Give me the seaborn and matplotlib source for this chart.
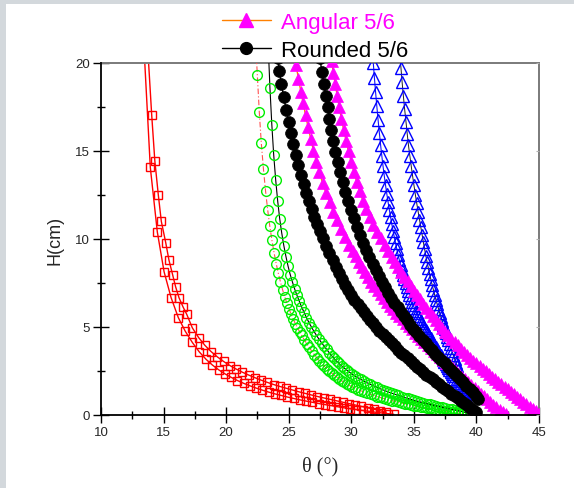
import matplotlib
matplotlib.use("Agg")
import matplotlib.pyplot as plt
from matplotlib.patches import Rectangle
from matplotlib.lines import Line2D
from matplotlib.ticker import MultipleLocator
import seaborn as sns

# ---------------- data ----------------
red_a_theta = [13.77, 14.05, 14.30, 14.58, 14.82, 15.17, 15.43, 15.73, 15.96, 16.23, 16.55, 16.85,
               17.3, 17.8, 18.3, 18.8, 19.3, 19.8, 20.3, 20.8, 21.3, 21.8, 22.3, 22.8, 23.3, 23.8,
               24.3, 24.8, 25.3, 25.8, 26.3, 26.8, 27.3, 27.8, 28.3, 28.8, 29.3, 29.8, 30.3, 30.8,
               31.3, 31.8, 32.3, 32.8]
red_a_h = [20.4, 17.06, 14.45, 12.50, 11.00, 9.80, 8.80, 7.95, 7.29, 6.67, 6.15, 5.72,
           4.95, 4.40, 3.96, 3.60, 3.30, 3.04, 2.81, 2.61, 2.43, 2.27, 2.12, 1.98, 1.85, 1.73,
           1.62, 1.52, 1.42, 1.32, 1.23, 1.14, 1.05, 0.97, 0.89, 0.81, 0.73, 0.65, 0.57, 0.49,
           0.41, 0.33, 0.24, 0.16]

red_c_theta = [13.38, 13.94, 14.50, 15.04, 15.60, 16.18, 16.74, 17.30, 17.86, 18.4, 18.9, 19.4,
               19.9, 20.4, 20.9, 21.4, 21.9, 22.4, 22.9, 23.4, 23.9, 24.4, 24.9, 25.4, 25.9, 26.4,
               26.9, 27.4, 27.9, 28.4, 28.9, 29.4, 29.9, 30.4, 30.9, 31.4, 31.9, 32.4, 32.9, 33.4]
red_c_h = [21.6, 14.07, 10.40, 8.14, 6.67, 5.53, 4.75, 4.12, 3.58, 3.16, 2.84, 2.57,
           2.34, 2.14, 1.96, 1.80, 1.66, 1.53, 1.41, 1.30, 1.20, 1.11, 1.02, 0.94, 0.86, 0.79,
           0.72, 0.65, 0.59, 0.53, 0.47, 0.41, 0.36, 0.31, 0.26, 0.21, 0.16, 0.12, 0.08, 0.04]

green_l_theta = [22.32, 22.49, 22.65, 22.81, 22.98, 23.15, 23.32, 23.49, 23.66, 23.83, 24.00, 24.17,
                 24.34, 24.51, 24.68, 24.85, 25.02, 25.19, 25.36, 25.53, 25.70, 25.87, 26.04,
                 26.24, 26.44, 26.64, 26.84, 27.04, 27.24, 27.44, 27.64, 27.84, 28.04, 28.24, 28.44,
                 28.64, 28.84, 29.04, 29.24, 29.44, 29.64, 29.84, 30.04, 30.29, 30.54, 30.79, 31.04,
                 31.29, 31.54, 31.79, 32.04, 32.29, 32.54, 32.79, 33.04, 33.29, 33.54, 33.79, 34.04,
                 34.29, 34.54, 34.79, 35.04, 35.29, 35.54, 35.79, 36.04, 36.29, 36.54, 36.79, 37.04,
                 37.29, 37.54, 37.79, 38.04, 38.29, 38.54, 38.79]
green_l_h = [21.7, 19.34, 17.20, 15.44, 13.98, 12.72, 11.65, 10.72, 9.92, 9.22, 8.60, 8.05,
             7.56, 7.12, 6.72, 6.36, 6.03, 5.73, 5.45, 5.19, 4.95, 4.73, 4.52,
             4.28, 4.05, 3.84, 3.63, 3.43, 3.25, 3.08, 2.92, 2.77, 2.63, 2.50, 2.38,
             2.26, 2.15, 2.04, 1.94, 1.85, 1.76, 1.68, 1.61, 1.52, 1.44, 1.37, 1.30,
             1.23, 1.17, 1.11, 1.05, 1.00, 0.95, 0.90, 0.85, 0.81, 0.77, 0.72, 0.68,
             0.64, 0.60, 0.56, 0.53, 0.49, 0.46, 0.43, 0.40, 0.37, 0.34, 0.31, 0.28,
             0.25, 0.22, 0.19, 0.17, 0.14, 0.11, 0.08]

green_r_theta = [23.36, 23.50, 23.65, 23.80, 23.96, 24.12, 24.28, 24.44, 24.61, 24.78, 24.95, 25.12,
                 25.30, 25.48, 25.66, 25.84, 26.02, 26.22, 26.42, 26.62, 26.82, 27.02, 27.22, 27.42,
                 27.62, 27.82, 28.02, 28.22, 28.42, 28.62, 28.82, 29.02, 29.22, 29.42, 29.62, 29.82,
                 30.02, 30.27, 30.52, 30.77, 31.02, 31.27, 31.52, 31.77, 32.02, 32.27, 32.52, 32.77,
                 33.02, 33.27, 33.52, 33.77, 34.02, 34.27, 34.52, 34.77, 35.02, 35.27, 35.52, 35.77,
                 36.02, 36.27, 36.52, 36.77, 37.02, 37.27, 37.52, 37.77, 38.02, 38.27, 38.52, 38.77,
                 39.02, 39.27]
green_r_h = [21.0, 18.58, 16.50, 14.78, 13.35, 12.15, 11.15, 10.35, 9.62, 9.00, 8.45, 7.98,
             7.55, 7.15, 6.80, 6.47, 6.16, 5.84, 5.53, 5.25, 4.99, 4.75, 4.52, 4.31,
             4.11, 3.92, 3.74, 3.55, 3.38, 3.22, 3.07, 2.93, 2.80, 2.68, 2.56, 2.45,
             2.35, 2.23, 2.12, 2.02, 1.92, 1.83, 1.74, 1.66, 1.58, 1.50, 1.43, 1.36,
             1.29, 1.23, 1.17, 1.11, 1.05, 0.99, 0.94, 0.89, 0.84, 0.79, 0.74, 0.69,
             0.65, 0.60, 0.56, 0.52, 0.48, 0.44, 0.40, 0.36, 0.32, 0.28, 0.24, 0.20,
             0.16, 0.12]

blue_l_theta = [31.66, 31.76, 31.85, 31.94, 32.04, 32.14, 32.24, 32.34, 32.44, 32.54, 32.64, 32.74,
                32.84, 32.94, 33.04, 33.14, 33.24, 33.34, 33.44, 33.54, 33.64, 33.74, 33.84, 33.94,
                34.04, 34.14, 34.24, 34.34, 34.44, 34.54, 34.64, 34.74, 34.84, 34.94, 35.04, 35.14,
                35.24, 35.34, 35.44, 35.54, 35.64, 35.74, 35.84, 35.94, 36.04, 36.14, 36.24, 36.34,
                36.44, 36.54, 36.64, 36.74, 36.84, 36.94, 37.04, 37.14, 37.24, 37.34, 37.44, 37.54,
                37.64, 37.74, 37.84, 37.94, 38.04, 38.14, 38.24, 38.34, 38.44, 38.54, 38.64, 38.74,
                38.84, 38.94, 39.04, 39.14, 39.24]
blue_l_h = [20.85, 19.98, 19.15, 18.35, 17.55, 16.78, 16.05, 15.36, 14.72, 14.12, 13.56, 13.04,
            12.56, 12.10, 11.66, 11.24, 10.84, 10.46, 10.10, 9.75, 9.42, 9.10, 8.80, 8.51,
            8.23, 7.97, 7.72, 7.48, 7.25, 7.03, 6.82, 6.62, 6.43, 6.25, 6.08, 5.92,
            5.77, 5.62, 5.48, 5.34, 5.21, 5.08, 4.95, 4.83, 4.71, 4.59, 4.47, 4.35,
            4.23, 4.11, 3.99, 3.87, 3.75, 3.63, 3.51, 3.39, 3.27, 3.15, 3.03, 2.91,
            2.79, 2.67, 2.55, 2.43, 2.31, 2.19, 2.07, 1.95, 1.83, 1.71, 1.59, 1.47,
            1.35, 1.23, 1.12, 1.01, 0.90]

blue_r_theta = [33.87, 33.97, 34.06, 34.16, 34.26, 34.37, 34.47, 34.57, 34.68, 34.79, 34.90, 35.01,
                35.12, 35.23, 35.34, 35.45, 35.56, 35.66, 35.76, 35.86, 35.96, 36.06, 36.16, 36.26,
                36.36, 36.46, 36.56, 36.66, 36.76, 36.86, 36.96, 37.06, 37.16, 37.26, 37.36, 37.46,
                37.56, 37.66, 37.76, 37.86, 37.96, 38.06, 38.16, 38.26, 38.36, 38.46, 38.56, 38.66,
                38.76, 38.86]
blue_r_h = [20.5, 19.72, 18.92, 18.14, 17.40, 16.67, 15.97, 15.32, 14.72, 14.14, 13.58, 13.04,
            12.52, 12.03, 11.56, 11.10, 10.66, 10.24, 9.82, 9.42, 9.04, 8.68, 8.34, 8.01,
            7.70, 7.40, 7.11, 6.83, 6.56, 6.30, 6.05, 5.81, 5.57, 5.34, 5.11, 4.89,
            4.67, 4.45, 4.24, 4.03, 3.82, 3.61, 3.40, 3.19, 2.98, 2.77, 2.56, 2.35,
            2.14, 1.93]

mag_l_theta = [25.40, 25.58, 25.78, 25.97, 26.16, 26.35, 26.55, 26.76, 26.98, 27.21, 27.45, 27.71,
               27.98, 28.26, 28.55, 28.85, 29.16, 29.48, 29.80, 30.10, 30.35, 30.60, 30.85, 31.10,
               31.35, 31.60, 31.85, 32.10, 32.35, 32.60, 32.85, 33.10, 33.35, 33.60, 33.85, 34.10,
               34.35, 34.60, 34.85, 35.10, 35.35, 35.60, 35.85, 36.10, 36.35, 36.60, 36.85, 37.10,
               37.35, 37.60, 37.85, 38.10, 38.35, 38.60, 38.85, 39.10, 39.35, 39.60, 39.85, 40.10,
               40.35, 40.60, 40.85, 41.10, 41.35, 41.60, 41.85, 42.10, 42.35]
mag_l_h = [20.60, 19.90, 19.10, 18.38, 17.70, 17.02, 16.36, 15.68, 15.02, 14.38, 13.78, 13.18,
           12.62, 12.08, 11.56, 11.06, 10.58, 10.12, 9.68, 9.30, 9.02, 8.70, 8.40, 8.11,
           7.84, 7.58, 7.33, 7.09, 6.86, 6.64, 6.43, 6.22, 6.02, 5.82, 5.62, 5.43,
           5.24, 5.05, 4.86, 4.68, 4.50, 4.32, 4.14, 3.97, 3.80, 3.63, 3.46, 3.30,
           3.14, 2.98, 2.82, 2.66, 2.50, 2.34, 2.18, 2.02, 1.86, 1.70, 1.54, 1.38,
           1.22, 1.06, 0.90, 0.74, 0.58, 0.43, 0.29, 0.17, 0.07]

mag_r_theta = [28.42, 28.57, 28.72, 28.88, 29.04, 29.21, 29.39, 29.58, 29.78, 29.99, 30.21, 30.44,
               30.68, 30.93, 31.20, 31.48, 31.77, 32.06, 32.36, 32.66, 32.96, 33.25, 33.50, 33.75,
               34.00, 34.25, 34.50, 34.75, 35.00, 35.25, 35.50, 35.75, 36.00, 36.25, 36.50, 36.75,
               37.00, 37.25, 37.50, 37.75, 38.00, 38.25, 38.50, 38.75, 39.00, 39.25, 39.50, 39.75,
               40.00, 40.25, 40.50, 40.75, 41.00, 41.25, 41.50, 41.75, 42.00, 42.25, 42.50, 42.75,
               43.00, 43.25, 43.50, 43.75, 44.00, 44.25, 44.50, 44.75, 45.00]
mag_r_h = [20.10, 19.43, 18.78, 18.13, 17.48, 16.84, 16.21, 15.59, 14.98, 14.38, 13.80, 13.24,
           12.70, 12.18, 11.68, 11.24, 10.82, 10.42, 10.03, 9.66, 9.30, 8.96, 8.68, 8.40,
           8.13, 7.86, 7.59, 7.33, 7.07, 6.82, 6.57, 6.33, 6.09, 5.85, 5.62, 5.39,
           5.17, 4.95, 4.74, 4.53, 4.33, 4.14, 3.95, 3.77, 3.59, 3.42, 3.25, 3.09,
           2.93, 2.78, 2.63, 2.48, 2.33, 2.18, 2.03, 1.88, 1.74, 1.60, 1.46, 1.32,
           1.18, 1.04, 0.90, 0.76, 0.62, 0.48, 0.34, 0.20, 0.06]

blk_l_theta = [24.12, 24.25, 24.42, 24.60, 24.80, 25.00, 25.19, 25.38, 25.58, 25.78, 25.98, 26.19,
               26.40, 26.61, 26.83, 27.05, 27.28, 27.51, 27.75, 28.00, 28.25, 28.50, 28.75, 29.00,
               29.25, 29.50, 29.75, 30.00, 30.25, 30.50, 30.75, 31.00, 31.25, 31.50, 31.75, 32.00,
               32.25, 32.50, 32.75, 33.00, 33.25, 33.50, 33.75, 34.00, 34.25, 34.50, 34.75, 35.00,
               35.25, 35.50, 35.75, 36.00, 36.25, 36.50, 36.75, 37.00, 37.25, 37.50, 37.75, 38.00,
               38.25, 38.50, 38.75, 39.00, 39.25, 39.50, 39.75, 40.00]
blk_l_h = [20.30, 19.56, 18.80, 18.05, 17.33, 16.65, 16.00, 15.38, 14.78, 14.20, 13.65, 13.12,
           12.62, 12.15, 11.70, 11.27, 10.84, 10.43, 10.03, 9.60, 9.19, 8.80, 8.42, 8.05,
           7.71, 7.39, 7.08, 6.80, 6.55, 6.31, 6.08, 5.85, 5.63, 5.42, 5.21, 5.00,
           4.80, 4.61, 4.43, 4.25, 4.07, 3.90, 3.72, 3.55, 3.39, 3.22, 3.06, 2.90,
           2.75, 2.60, 2.45, 2.30, 2.16, 2.02, 1.89, 1.75, 1.61, 1.47, 1.34, 1.20,
           1.07, 0.94, 0.81, 0.68, 0.55, 0.42, 0.28, 0.15]

blk_r_theta = [27.50, 27.64, 27.80, 27.95, 28.10, 28.25, 28.40, 28.56, 28.73, 28.91, 29.10, 29.30,
               29.51, 29.73, 29.96, 30.20, 30.45, 30.70, 30.95, 31.20, 31.45, 31.70, 31.95, 32.20,
               32.45, 32.70, 32.95, 33.20, 33.45, 33.70, 33.95, 34.20, 34.45, 34.70, 34.95, 35.20,
               35.45, 35.70, 35.95, 36.20, 36.45, 36.70, 36.95, 37.20, 37.45, 37.70, 37.95, 38.20,
               38.45, 38.70, 38.95, 39.20, 39.45, 39.70, 39.95, 40.10]
blk_r_h = [20.30, 19.50, 18.82, 18.15, 17.48, 16.82, 16.18, 15.55, 14.94, 14.35, 13.78, 13.22,
           12.68, 12.16, 11.66, 11.17, 10.70, 10.24, 9.80, 9.38, 8.98, 8.60, 8.24, 7.90,
           7.57, 7.26, 6.96, 6.67, 6.39, 6.12, 5.86, 5.61, 5.37, 5.14, 4.91, 4.69,
           4.48, 4.27, 4.07, 3.87, 3.68, 3.49, 3.30, 3.11, 2.93, 2.75, 2.57, 2.39,
           2.21, 2.03, 1.85, 1.67, 1.48, 1.29, 1.10, 0.90]

x_ticks = [10, 15, 20, 25, 30, 35, 40, 45]
y_ticks = [0, 5, 10, 15, 20]
legend_labels = ["Angular 5/6", "Rounded 5/6"]

# ---------------- style ----------------
sns.set_style("ticks")
plt.rcParams['font.family'] = ['Liberation Sans', 'DejaVu Sans']

W, H = 574, 489
fig = plt.figure(figsize=(W / 100, H / 100), dpi=100)
fig.patch.set_facecolor('#d3d8dc')
fig.add_artist(Rectangle((6 / W, 0), 1, (H - 5) / H, transform=fig.transFigure,
                         facecolor='white', edgecolor='none', zorder=-5))

ax = fig.add_axes([101 / W, (H - 416) / H, (539 - 101) / W, (416 - 64) / H])
ax.set_facecolor('white')


def draw(xs, ys, z, **kw):
    sns.lineplot(x=xs, y=ys, sort=False, estimator=None, ax=ax, legend=False, zorder=z, **kw)


draw(red_a_theta, red_a_h, 2, color='red', linewidth=1.0, marker='s', markersize=6.3,
     markerfacecolor='none', markeredgecolor='red', markeredgewidth=1.0)
draw(red_c_theta, red_c_h, 2, color='red', linewidth=1.0, marker='s', markersize=6.3,
     markerfacecolor='none', markeredgecolor='red', markeredgewidth=1.0)
draw(green_l_theta, green_l_h, 3, color='#ff5050', linewidth=0.8, linestyle=(0, (5, 2, 1, 2)),
     marker='o', markersize=7, markerfacecolor='none', markeredgecolor='#00ee00', markeredgewidth=1.0)
draw(green_r_theta, green_r_h, 3, color='black', linewidth=0.8, marker='o', markersize=7,
     markerfacecolor='none', markeredgecolor='#00ee00', markeredgewidth=1.0)
draw(blue_l_theta, blue_l_h, 4, color='#1010ff', linewidth=0.8, marker='^', markersize=8,
     markerfacecolor='none', markeredgecolor='#0000ff', markeredgewidth=1.0)
draw(blue_r_theta, blue_r_h, 4, color='#202020', linewidth=0.7, marker='^', markersize=8,
     markerfacecolor='none', markeredgecolor='#0000ff', markeredgewidth=1.0)
draw(mag_l_theta, mag_l_h, 5, color='#ff8000', linewidth=1.0, marker='^', markersize=9.3,
     markerfacecolor='#ff00ff', markeredgecolor='#ff00ff', markeredgewidth=0.5)
draw(mag_r_theta, mag_r_h, 5, color='#ff8000', linewidth=1.0, marker='^', markersize=9.3,
     markerfacecolor='#ff00ff', markeredgecolor='#ff00ff', markeredgewidth=0.5)
draw(blk_l_theta, blk_l_h, 6, color='black', linewidth=1.0, marker='o', markersize=8.5,
     markerfacecolor='black', markeredgecolor='black', markeredgewidth=0.5)
draw(blk_r_theta, blk_r_h, 6, color='black', linewidth=1.0, marker='o', markersize=8.5,
     markerfacecolor='black', markeredgecolor='black', markeredgewidth=0.5)

ax.set_xlim(10, 45)
ax.set_ylim(0, 20)
ax.set_xticks(x_ticks)
ax.set_yticks(y_ticks)
ax.xaxis.set_minor_locator(MultipleLocator(2.5))
ax.yaxis.set_minor_locator(MultipleLocator(2.5))
ax.tick_params(which='major', direction='inout', length=11, width=1.0, color='black',
               labelsize=9.5, pad=2.5, top=False, right=False)
ax.tick_params(which='minor', direction='inout', length=6, width=1.0, color='black',
               top=False, right=False)
for s in ['left', 'bottom']:
    ax.spines[s].set_color('black')
    ax.spines[s].set_linewidth(1.3)
    ax.spines[s].set_zorder(10)
for s in ['top', 'right']:
    ax.spines[s].set_color('#7a7a7a')
    ax.spines[s].set_linewidth(1.4)

ax2 = ax.twinx()
ax2.set_ylim(0, 20)
ax2.set_yticks(y_ticks)
ax2.tick_params(direction='in', length=2.5, width=0.8, color='#b0b0b0', labelright=False)
for s in ax2.spines.values():
    s.set_visible(False)

ax.set_ylabel('H(cm)', fontsize=13, labelpad=8)
ax.set_xlabel('θ (°)', fontsize=14.5, family=['Liberation Serif', 'DejaVu Serif'], labelpad=13)

handles = [Line2D([], [], color='#ff8000', linewidth=1.0, marker='^', markersize=10,
                  markerfacecolor='#ff00ff', markeredgecolor='#ff00ff'),
           Line2D([], [], color='black', linewidth=1.0, marker='o', markersize=8.5,
                  markerfacecolor='black', markeredgecolor='black')]
leg = fig.legend(handles, legend_labels, loc='upper left', bbox_to_anchor=(222 / W, 1 - 13 / H),
                 frameon=False, fontsize=16, handlelength=2.2, handletextpad=0.45,
                 labelspacing=0.3, borderpad=0.0, borderaxespad=0.0)
leg.get_texts()[0].set_color('#ff00ff')
leg.get_texts()[1].set_color('black')

fig.savefig('out.png', dpi=100, facecolor=fig.get_facecolor())
